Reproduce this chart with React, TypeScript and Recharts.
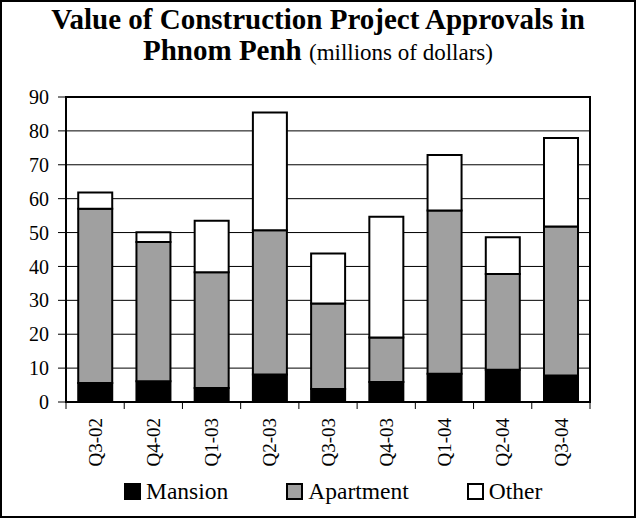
import { BarChart, Bar, XAxis, YAxis, CartesianGrid, ReferenceArea } from "recharts";

const quarters = ["Q3-02", "Q4-02", "Q1-03", "Q2-03", "Q3-03", "Q4-03", "Q1-04", "Q2-04", "Q3-04"];
const mansion = [5.6, 6.1, 4.1, 8.1, 3.8, 5.9, 8.3, 9.5, 7.8];
const apartment = [51.4, 41.1, 34.2, 42.6, 25.3, 13.1, 48.2, 28.3, 44.0];
const other = [4.8, 2.9, 15.2, 34.7, 14.7, 35.7, 16.4, 10.8, 26.1];
const yTicks = [0, 10, 20, 30, 40, 50, 60, 70, 80, 90];

const series = [
  { key: "mansion", name: "Mansion", color: "#000000" },
  { key: "apartment", name: "Apartment", color: "#a0a0a0" },
  { key: "other", name: "Other", color: "#ffffff" },
];

const rows = quarters.map((q, i) => ({
  quarter: q,
  mansion: mansion[i],
  apartment: apartment[i],
  other: other[i],
}));

const serif = '"Liberation Serif", "Times New Roman", serif';

// label rotated, tick marks drawn at the category edges
function QuarterTick(props: any) {
  const { x, y, payload, index, visibleTicksCount } = props;
  const half = payload.offset ?? 29;
  const last = index === visibleTicksCount - 1;
  return (
    <g>
      <line x1={x - half} y1={y} x2={x - half} y2={y + 7} stroke="#000" strokeWidth={1} />
      {last && <line x1={x + half} y1={y} x2={x + half} y2={y + 7} stroke="#000" strokeWidth={1} />}
      <text
        x={x}
        y={y + 16}
        dy="0.35em"
        textAnchor="end"
        transform={`rotate(-90, ${x}, ${y + 16})`}
        fontFamily={serif}
        fontSize={19}
        fill="#000"
      >
        {payload.value}
      </text>
    </g>
  );
}

export default function App() {
  return (
    <div style={{ position: "absolute", left: 0, top: 0, width: 636, height: 518, background: "#fff" }}>
      <BarChart
        width={636}
        height={518}
        data={rows}
        margin={{ top: 97, right: 46, bottom: 56, left: 0 }}
        barCategoryGap="21%"
      >
        <CartesianGrid vertical={false} stroke="#000" strokeWidth={1} />
        <XAxis
          dataKey="quarter"
          height={60}
          axisLine={false}
          tickLine={false}
          tickSize={0}
          tickMargin={0}
          interval={0}
          tick={<QuarterTick />}
        />
        <YAxis
          width={66}
          domain={[0, 90]}
          ticks={yTicks}
          interval={0}
          axisLine={false}
          tickSize={8}
          tickMargin={9}
          tickLine={{ stroke: "#000", strokeWidth: 1 }}
          tick={{ fontFamily: serif, fontSize: 20, fill: "#000" }}
        />
        {series.map((s) => (
          <Bar
            key={s.key}
            dataKey={s.key}
            name={s.name}
            stackId="a"
            fill={s.color}
            stroke="#000"
            strokeWidth={2}
            isAnimationActive={false}
          />
        ))}
        <ReferenceArea y1={0} y2={90} fill="none" stroke="#000" strokeWidth={2} ifOverflow="visible" />
      </BarChart>

      <div
        style={{
          position: "absolute",
          left: 0,
          top: 4,
          width: 636,
          textAlign: "center",
          fontFamily: serif,
          color: "#000",
        }}
      >
        <div style={{ fontSize: 29, fontWeight: "bold", lineHeight: "31px" }}>
          Value of Construction Project Approvals in
        </div>
        <div style={{ fontSize: 29, fontWeight: "bold", lineHeight: "31px" }}>
          Phnom Penh <span style={{ fontSize: 23, fontWeight: "normal" }}>(millions of dollars)</span>
        </div>
      </div>

      <div
        style={{
          position: "absolute",
          left: 124,
          top: 478,
          display: "flex",
          alignItems: "center",
          gap: 58,
          fontFamily: serif,
          fontSize: 23.5,
          color: "#000",
          lineHeight: "27px",
        }}
      >
        {series.map((s) => (
          <div key={s.key} style={{ display: "flex", alignItems: "center" }}>
            <span
              style={{
                display: "inline-block",
                width: 13,
                height: 13,
                background: s.color,
                border: "2px solid #000",
                marginRight: 5,
              }}
            />
            <span>{s.name}</span>
          </div>
        ))}
      </div>

      <div
        style={{
          position: "absolute",
          left: 0,
          top: 0,
          width: 636,
          height: 518,
          boxSizing: "border-box",
          border: "2px solid #000",
          pointerEvents: "none",
        }}
      />
    </div>
  );
}
